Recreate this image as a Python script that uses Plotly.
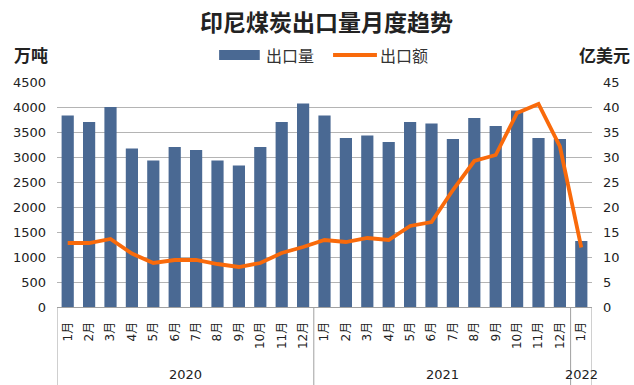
import plotly.graph_objects as go

years = ["2020"] * 12 + ["2021"] * 12 + ["2022"]
months = [f"{m}月" for m in range(1, 13)] * 2 + ["1月"]
volume = [3830, 3700, 4000, 3170, 2930, 3200, 3140, 2930, 2830, 3200, 3700, 4070,
          3830, 3380, 3430, 3300, 3700, 3670, 3360, 3780, 3620, 3930, 3380, 3360,
          1320]
value = [12.8, 12.8, 13.6, 10.7, 8.8, 9.4, 9.4, 8.6, 8.0, 8.8, 10.8, 12.0,
         13.4, 13.0, 13.8, 13.4, 16.2, 17.0, 23.4, 29.2, 30.4, 38.8, 40.6, 32.1,
         11.9]

cats = [f"{y}-{m}" for y, m in zip(years, months)]

BAR = "#4A6993"
ORANGE = "#F96A0B"
GRID = "#B4B4B4"
AXIS = "#A0A0A0"
FONT = "DejaVu Sans, Noto Sans CJK SC"
CJK = "Noto Sans CJK SC"

fig = go.Figure()
fig.add_trace(go.Bar(x=cats, y=volume, name="出口量",
                     marker=dict(color=BAR, line=dict(width=0)), width=0.57))
fig.add_trace(go.Scatter(x=cats, y=value, name="出口额", yaxis="y2",
                         mode="lines", line=dict(color=ORANGE, width=3.8)))

fig.update_layout(
    width=634, height=385,
    margin=dict(l=57, r=42, t=82, b=78),
    paper_bgcolor="white", plot_bgcolor="white",
    showlegend=False,
    title=dict(text="<b>印尼煤炭出口量月度趋势</b>", x=0.515, xanchor="center",
               y=0.94, yanchor="middle",
               font=dict(family=CJK, size=23, color="#222222")),
    xaxis=dict(type="category", range=[-0.5, len(cats) - 0.5], showline=True,
               linecolor=AXIS, linewidth=1, tickangle=-90,
               tickvals=cats, ticktext=months, ticklabelstandoff=9,
               tickfont=dict(family=FONT, size=12, color="#222222"),
               ticks="", showgrid=False, automargin=False),
    yaxis=dict(range=[0, 4500], dtick=500, showgrid=True, gridcolor=GRID,
               gridwidth=1, zeroline=False, automargin=False,
               ticks="", ticklabelstandoff=10,
               tickfont=dict(family=FONT, size=13, color="#222222")),
    yaxis2=dict(range=[0, 45], dtick=5, overlaying="y", side="right",
                showgrid=False, zeroline=False, automargin=False,
                ticks="", ticklabelstandoff=10,
                tickfont=dict(family=FONT, size=13, color="#222222")),
)

# category-group dividers and year labels
bottom = -78 / 225
groups = []
for i, y in enumerate(years):
    if not groups or groups[-1][0] != y:
        groups.append([y, i, i])
    else:
        groups[-1][2] = i
bounds = sorted({g[1] - 0.5 for g in groups} | {groups[-1][2] + 0.5})
for b in bounds:
    fig.add_shape(type="line", xref="x", yref="paper", x0=b, x1=b,
                  y0=0, y1=bottom, line=dict(color=AXIS, width=1))
for y, i0, i1 in groups:
    fig.add_annotation(text=y, xref="x", yref="paper", x=(i0 + i1) / 2,
                       y=-0.298, xanchor="center", yanchor="middle",
                       showarrow=False,
                       font=dict(family=FONT, size=13, color="#222222"))

# axis unit labels
fig.add_annotation(text="<b>万吨</b>", xref="paper", yref="paper", x=-0.084,
                   y=1.12, xanchor="left", yanchor="middle", showarrow=False,
                   font=dict(family=CJK, size=17, color="#222222"))
fig.add_annotation(text="<b>亿美元</b>", xref="paper", yref="paper", x=1.075,
                   y=1.12, xanchor="right", yanchor="middle", showarrow=False,
                   font=dict(family=CJK, size=17, color="#222222"))

# custom legend
ly = 1.12
fig.add_shape(type="rect", xref="paper", yref="paper", x0=0.303, x1=0.379,
              y0=ly - 0.022, y1=ly + 0.022, fillcolor=BAR, line=dict(width=0))
fig.add_annotation(text="出口量", xref="paper", yref="paper", x=0.387, y=ly,
                   xanchor="left", yanchor="middle", showarrow=False,
                   font=dict(family=CJK, size=16, color="#333333"))
fig.add_shape(type="line", xref="paper", yref="paper", x0=0.516, x1=0.598,
              y0=ly, y1=ly, line=dict(color=ORANGE, width=3.8))
fig.add_annotation(text="出口额", xref="paper", yref="paper", x=0.600, y=ly,
                   xanchor="left", yanchor="middle", showarrow=False,
                   font=dict(family=CJK, size=16, color="#333333"))

fig.write_html("out.html", config={"displayModeBar": False},
               post_script="document.body.style.margin='0px';")
